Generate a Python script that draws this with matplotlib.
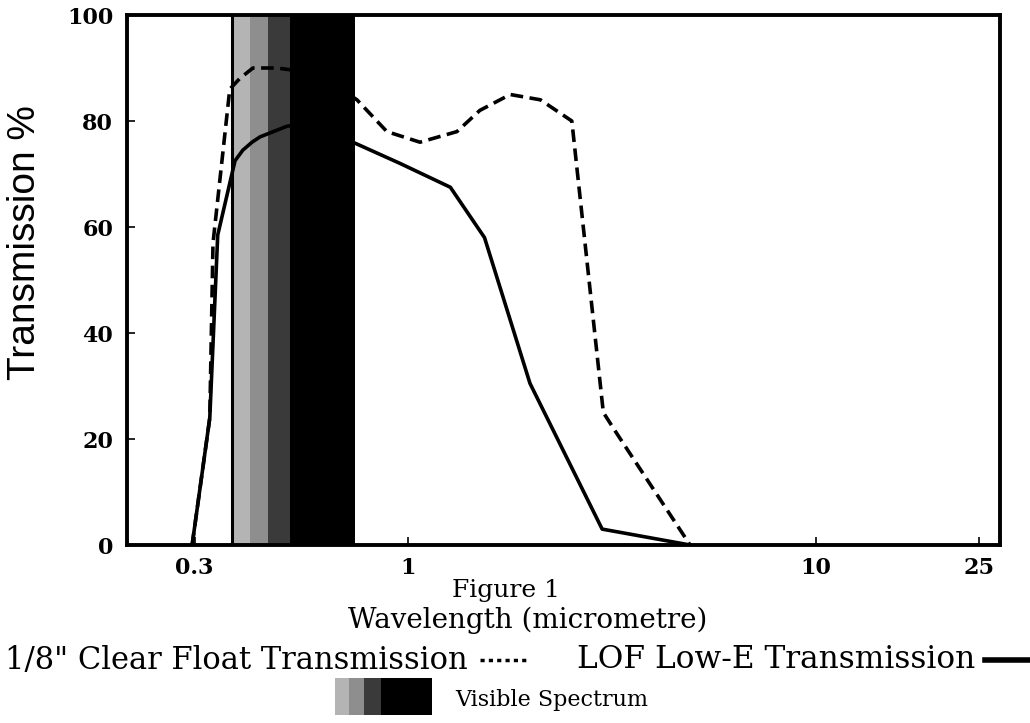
import numpy as np
import matplotlib
matplotlib.use("Agg")
import matplotlib.pyplot as plt
from matplotlib.lines import Line2D
from matplotlib.patches import Rectangle

# Transmission curves (wavelength in micrometre, %)
clear_wl = [0.296, 0.327, 0.333, 0.366, 0.387, 0.417, 0.477, 0.60, 0.750, 0.888,
            1.07, 1.318, 1.50, 1.78, 2.11, 2.52, 3.01, 3.25, 4.91]
clear_tr = [0, 24, 57, 86, 88, 90, 90, 89, 84, 78, 76, 78, 82, 85, 84, 80, 25, 21, 0]

lowe_wl = [0.296, 0.327, 0.342, 0.377, 0.394, 0.415, 0.434, 0.505, 0.60, 0.733,
           0.956, 1.27, 1.54, 1.99, 2.99, 4.91]
lowe_tr = [0, 24, 58.5, 72.5, 74.5, 76, 77, 79, 80, 76, 72, 67.5, 58, 30.5, 3, 0]

# visible spectrum band, light -> dark
band_edges = [0.37, 0.41, 0.454, 0.514, 0.742]
band_greys = ["#b4b4b4", "#8e8e8e", "#3a3a3a", "#000000"]

xticks = [0.3, 1, 10, 25]
xtick_labels = ["0.3", "1", "10", "25"]
yticks = [0, 20, 40, 60, 80, 100]

fig = plt.figure(figsize=(10.3, 7.23), dpi=100)
ax = fig.add_axes([127 / 1030, 178 / 723, 873 / 1030, 530 / 723])

ax.set_xscale("log")
ax.set_xlim(0.205, 28.2)
ax.set_ylim(0, 100)

# gradient band for the visible spectrum
for i, c in enumerate(band_greys):
    ax.axvspan(band_edges[i], band_edges[i + 1], color=c, lw=0, zorder=1)
ax.axvline(band_edges[0], color="black", lw=2.2, zorder=1.5)

ax.plot(clear_wl, clear_tr, color="black", lw=2.6, ls=(0, (3.5, 1.8)), zorder=2)
ax.plot(lowe_wl, lowe_tr, color="black", lw=2.6, zorder=2)

for s in ax.spines.values():
    s.set_linewidth(2.8)

ax.set_xticks(xticks)
ax.set_xticklabels(xtick_labels)
ax.xaxis.set_minor_locator(matplotlib.ticker.NullLocator())
ax.set_yticks(yticks)
ax.tick_params(direction="in", length=6, width=1.2, pad=10)
ax.tick_params(axis="x", pad=9)
for lab in ax.get_xticklabels() + ax.get_yticklabels():
    lab.set_fontfamily("DejaVu Serif")
    lab.set_fontweight("bold")
    lab.set_fontsize(16)

ax.set_ylabel("Transmission %", fontsize=28, family="Liberation Sans")
ax.yaxis.set_label_coords(-0.096, 0.57)

serif = "DejaVu Serif"
fig.text(506 / 1030, 1 - 590 / 723, "Figure 1", ha="center", va="center", fontsize=18, family=serif)
fig.text(528 / 1030, 1 - 620 / 723, "Wavelength (micrometre)", ha="center", va="center", fontsize=20, family=serif)
fig.text(5 / 1030, 1 - 660 / 723, '1/8" Clear Float Transmission', ha="left", va="center", fontsize=22, family=serif)
fig.text(975 / 1030, 1 - 660 / 723, "LOF Low-E Transmission", ha="right", va="center", fontsize=22.5, family=serif)
fig.text(455 / 1030, 1 - 700 / 723, "Visible Spectrum", ha="left", va="center", fontsize=16, family=serif)

# legend samples
fig.add_artist(Line2D([480 / 1030, 530 / 1030], [1 - 660 / 723] * 2, color="black", lw=2.5,
                      ls=(0, (1.2, 1.2))))
fig.add_artist(Line2D([985 / 1030, 1.0], [1 - 660 / 723] * 2, color="black", lw=4))

# swatch for the visible spectrum
sw_x0, sw_w, sw_y0, sw_h = 335 / 1030, 97 / 1030, 1 - 715 / 723, 37 / 723
fracs = np.log(band_edges) - np.log(band_edges[0])
fracs = fracs / fracs[-1]
for i, c in enumerate(band_greys):
    fig.add_artist(Rectangle((sw_x0 + fracs[i] * sw_w, sw_y0), (fracs[i + 1] - fracs[i]) * sw_w, sw_h,
                             transform=fig.transFigure, color=c, lw=0))

fig.savefig("out.png", dpi=100)
